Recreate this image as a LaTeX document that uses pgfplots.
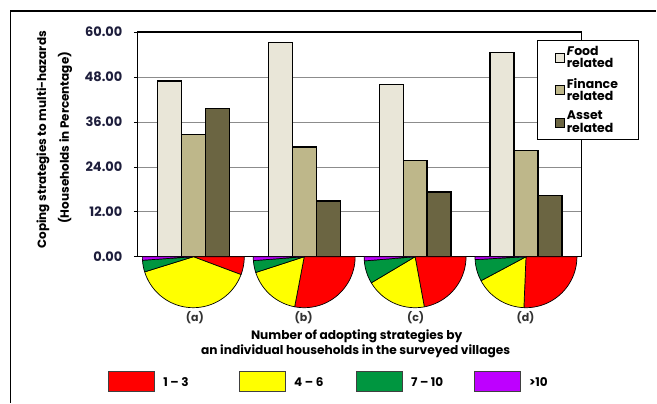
\documentclass[border=0pt]{standalone}
\usepackage{fontspec}
\setmainfont{Poppins}
\usepackage{pgfplots}
\pgfplotsset{compat=1.18}
\definecolor{food}{RGB}{233,230,216}
\definecolor{fin}{RGB}{190,183,138}
\definecolor{asset}{RGB}{107,101,66}
\definecolor{pred}{RGB}{255,0,0}
\definecolor{pyel}{RGB}{255,255,0}
\definecolor{pgrn}{RGB}{0,150,64}
\definecolor{ppur}{RGB}{190,0,255}
\definecolor{tickc}{RGB}{30,30,60}
% pie wedge: centre x, cumulative start %, cumulative end %, colour
\newcommand{\wedgeslice}[4]{%
  \addplot[fill=#4, draw=black, line width=0.7pt, line join=round,
    domain=1.8*#2:1.8*#3, samples=40, variable=\t, forget plot]
   ({#1+0.4595*cos(\t)},{-13.6*sin(\t)}) -- (axis cs:#1,0) -- cycle;
}
\begin{document}
\begin{tikzpicture}
\path (0,0) rectangle (657bp,403bp);
\draw[line width=1.3pt] (10.5bp,0bp) -- (10.5bp,392bp) -- (657bp,392bp);
\begin{axis}[
  at={(138bp,146bp)}, anchor=south west,
  scale only axis, width=444bp, height=225bp,
  xmin=-0.5, xmax=3.5, ymin=0, ymax=60,
  clip=false,
  axis line style={line width=1.2pt},
  xtick=\empty,
  ytick={0,12,24,36,48,60},
  ymajorgrids, grid style={black!45, line width=0.6pt},
  tick align=outside, ytick pos=left, major tick length=4bp,
  tick style={black, line width=0.6pt},
  yticklabel style={font=\fontsize{13bp}{14bp}\selectfont\bfseries, text=tickc, xshift=-8bp,
     /pgf/number format/.cd, fixed, fixed zerofill, precision=2, assume math mode=true},
  legend style={at={(0.899,0.964)}, anchor=north west, draw=black, line width=0.8pt,
     font=\fontsize{12.5bp}{12.5bp}\selectfont\bfseries, cells={align=left, anchor=west},
     row sep=5bp, inner xsep=18bp, inner ysep=3.5bp},
  legend image code/.code={\draw[#1, draw=black, line width=0.9pt] (0bp,-4.5bp) rectangle (9bp,4.5bp);},
]
\addplot[ybar, bar width=24bp, bar shift=-24bp, fill=food, draw=black, line width=1.2pt]
  coordinates {(0,46.9) (1,57.1) (2,45.9) (3,54.6)};
\addlegendentry{\textit{F}ood\\related}
\addplot[ybar, bar width=24bp, bar shift=0bp, fill=fin, draw=black, line width=1.2pt]
  coordinates {(0,32.7) (1,29.3) (2,25.6) (3,28.3)};
\addlegendentry{Finance\\related}
\addplot[ybar, bar width=24bp, bar shift=24bp, fill=asset, draw=black, line width=1.2pt]
  coordinates {(0,39.5) (1,14.9) (2,17.3) (3,16.3)};
\addlegendentry{Asset\\related}
% (a)
\wedgeslice{0}{0}{11.4}{pred}
\wedgeslice{0}{11.4}{90.4}{pyel}
\wedgeslice{0}{90.4}{97.8}{pgrn}
\wedgeslice{0}{97.8}{100}{ppur}
% (b)
\wedgeslice{1}{0}{56.0}{pred}
\wedgeslice{1}{56.0}{90.0}{pyel}
\wedgeslice{1}{90.0}{97.6}{pgrn}
\wedgeslice{1}{97.6}{100}{ppur}
% (c)
\wedgeslice{2}{0}{44.2}{pred}
\wedgeslice{2}{44.2}{82.9}{pyel}
\wedgeslice{2}{82.9}{97.4}{pgrn}
\wedgeslice{2}{97.4}{100}{ppur}
% (d)
\wedgeslice{3}{0}{51.3}{pred}
\wedgeslice{3}{51.3}{84.4}{pyel}
\wedgeslice{3}{84.4}{98.2}{pgrn}
\wedgeslice{3}{98.2}{100}{ppur}
\end{axis}
% axis titles
\node[rotate=90, font=\fontsize{12bp}{13bp}\selectfont\bfseries] at (43bp,263bp) {Coping strategies to multi-hazards};
\node[rotate=90, font=\fontsize{12bp}{13bp}\selectfont\bfseries] at (65bp,265bp) {(Households in Percentage)};
\node[font=\fontsize{12.2bp}{13bp}\selectfont\bfseries] at (357bp,66bp) {Number of adopting strategies by};
\node[font=\fontsize{12.2bp}{13bp}\selectfont\bfseries] at (356bp,51bp) {an individual households in the surveyed villages};
% pie labels
\foreach \x/\l in {195/a,304/b,416/c,526/d}
  \node[font=\fontsize{11bp}{12bp}\selectfont\bfseries, text=black!80] at (\x bp,85bp) {(\l)};
% pie legend
\foreach \x/\c/\l in {109/pred/{1 -- 3},240/pyel/{4 -- 6},357/pgrn/{7 -- 10},475/ppur/{>10}} {
  \draw[fill=\c, draw=black!75, line width=0.8pt] (\x bp,11bp) rectangle ++(46bp,20bp);
  \node[anchor=west, font=\fontsize{12bp}{13bp}\selectfont\bfseries] at ([xshift=51bp]\x bp,21bp) {\l};
}
\end{tikzpicture}
\end{document}
